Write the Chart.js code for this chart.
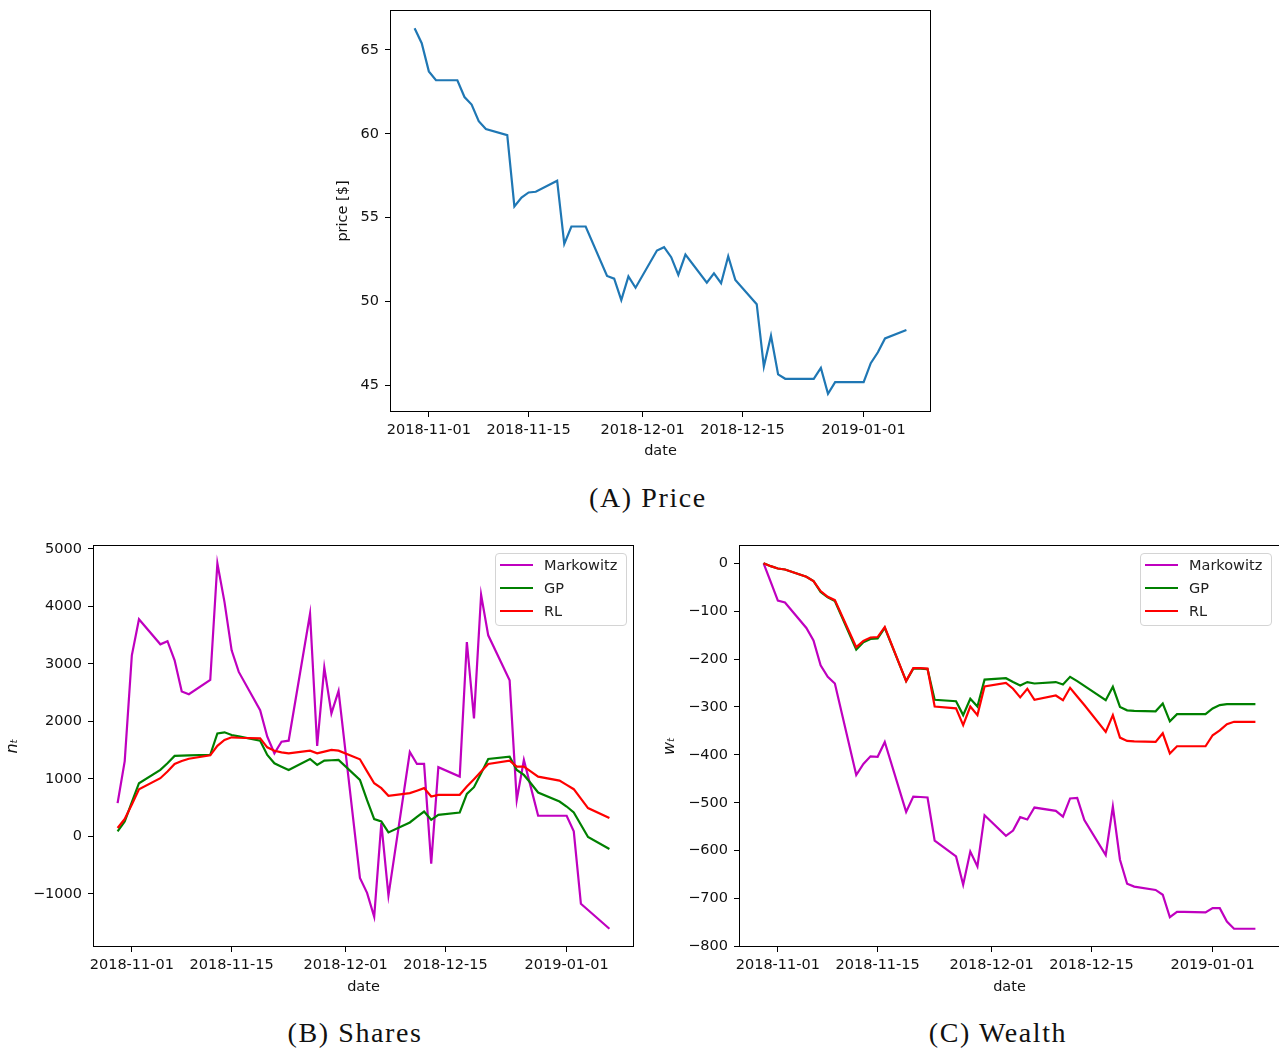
<!DOCTYPE html>
<html>
<head>
<meta charset="utf-8">
<script src="https://cdn.jsdelivr.net/npm/chart.js@4.4.1/dist/chart.umd.min.js"></script>
<style>
html,body{margin:0;padding:0;background:#fff;overflow:hidden;width:1279px;height:1051px;}
.wrap{position:absolute;}
canvas{display:block;}
.cap{position:absolute;font-family:"Liberation Serif",serif;font-size:28px;letter-spacing:1.6px;color:#111;white-space:nowrap;transform:translate(-50%,-50%);line-height:32px;}
.legend{position:absolute;border:1px solid #d4d4d4;border-radius:4px;background:rgba(255,255,255,0.8);font-family:"DejaVu Sans",sans-serif;font-size:14.5px;color:#222;box-sizing:border-box;}
.legend .sw{position:absolute;height:2px;width:33px;}
.legend .tx{position:absolute;line-height:18px;white-space:nowrap;}
</style>
</head>
<body>
<div class="wrap" style="left:320px;top:0px;"><canvas id="cA" width="630" height="470"></canvas></div>
<div class="wrap" style="left:0px;top:520px;"><canvas id="cB" width="650" height="490"></canvas></div>
<div class="wrap" style="left:645px;top:520px;"><canvas id="cC" width="645" height="490"></canvas></div>
<div class="cap" style="left:648px;top:498px;">(A) Price</div>
<div class="cap" style="left:355px;top:1033px;">(B) Shares</div>
<div class="cap" style="left:998px;top:1033px;">(C) Wealth</div>
<div id="legB" class="legend" style="left:495px;top:553px;width:132px;height:73px;"></div>
<div id="legC" class="legend" style="left:1140px;top:553px;width:132px;height:73px;"></div>
<script>
// ---------------- DATA ----------------
const dates = [
  '2018-10-30','2018-10-31',
  '2018-11-01','2018-11-02',
  '2018-11-05','2018-11-06','2018-11-07','2018-11-08','2018-11-09',
  '2018-11-12','2018-11-13','2018-11-14','2018-11-15','2018-11-16',
  '2018-11-19','2018-11-20','2018-11-21','2018-11-22','2018-11-23',
  '2018-11-26','2018-11-27','2018-11-28','2018-11-29','2018-11-30',
  '2018-12-03','2018-12-04','2018-12-05','2018-12-06','2018-12-07',
  '2018-12-10','2018-12-11','2018-12-12','2018-12-13','2018-12-14',
  '2018-12-17','2018-12-18','2018-12-19','2018-12-20','2018-12-21',
  '2018-12-24','2018-12-25','2018-12-26','2018-12-27','2018-12-28',
  '2018-12-31','2019-01-01','2019-01-02','2019-01-03','2019-01-04',
  '2019-01-07'
];

const price = [
  66.29, 65.40,
  63.72, 63.19,
  63.19, 62.19, 61.74, 60.75, 60.28,
  59.92, 55.67, 56.20, 56.50, 56.54,
  57.20, 53.43, 54.47, 54.47, 54.47,
  51.52, 51.36, 50.08, 51.50, 50.82,
  53.04, 53.24, 52.64, 51.58, 52.80,
  51.12, 51.68, 51.09, 52.70, 51.28,
  49.84, 46.12, 47.96, 45.65, 45.39,
  45.39, 45.39, 46.04, 44.50, 45.19,
  45.19, 45.19, 46.32, 46.97, 47.80,
  48.30
];

const sharesMarkowitz = [
  579, 1310,
  3149, 3775,
  3340, 3395, 3062, 2520, 2473,
  2720, 4749, 4073, 3236, 2860,
  2196, 1733, 1445, 1646, 1664,
  3872, 1572, 2936, 2139, 2530,
  -721, -981, -1397, 232, -1028,
  1468, 1260, 1260, -473, 1203,
  1040, 3380, 2052, 4201, 3496,
  2716, 636, 1329, 844, 359,
  359, 359, 87, -1172, -1280,
  -1605
];
const sharesGP = [
  87, 260,
  596, 925,
  1156, 1272, 1400, 1405, 1410,
  1420, 1790, 1810, 1763, 1740,
  1664, 1416, 1272, 1213, 1156,
  1347, 1243, 1317, 1324, 1329,
  983, 630, 301, 260, 69,
  243, 341, 433, 289, 376,
  416, 740, 856, 1099, 1347,
  1386, 1156, 1069, 919, 763,
  607, 520, 416, 203, -10,
  -218
];
const sharesRL = [
  146, 302,
  553, 821,
  1012, 1127, 1260, 1310, 1350,
  1410, 1575, 1676, 1723, 1715,
  1705, 1549, 1490, 1460, 1445,
  1491, 1445, 1475, 1503, 1491,
  1341, 1130, 925, 839, 705,
  752, 795, 839, 693, 723,
  723, 867, 995, 1127, 1260,
  1317, 1213, 1213, 1125, 1040,
  971, 896, 821, 658, 492,
  319
];

const wealthMarkowitz = [
  0, -39,
  -78, -82,
  -135, -161, -213, -237, -251,
  -442, -419, -403, -404, -373,
  -519, -487, -488, -489, -579,
  -612, -671, -602, -633, -526,
  -569, -558, -530, -535, -510,
  -517, -529, -491, -490, -536,
  -609, -508, -619, -669, -675,
  -682, -692, -739, -728, -728,
  -729, -720, -720, -748, -763,
  -763
];
const wealthGP = [
  0, -6,
  -11, -13,
  -28, -37, -60, -71, -79,
  -180, -165, -158, -157, -135,
  -246, -220, -220, -221, -285,
  -288, -317, -283, -299, -243,
  -240, -248, -255, -248, -251,
  -248, -253, -237, -246, -256,
  -286, -258, -300, -307, -308,
  -309, -293, -330, -315, -315,
  -315, -303, -296, -294, -294,
  -294
];
const wealthRL = [
  0, -6,
  -11, -13,
  -28, -37, -58, -70, -77,
  -175, -162, -155, -154, -133,
  -246, -219, -219, -220, -299,
  -303, -338, -299, -317, -257,
  -250, -262, -280, -262, -285,
  -276, -286, -260, -278, -296,
  -352, -317, -364, -371, -372,
  -373, -355, -397, -382, -382,
  -382, -359, -349, -336, -331,
  -331
];

const xTickDates = ['2018-11-01','2018-11-15','2018-12-01','2018-12-15','2019-01-01'];
const priceTicks = [45, 50, 55, 60, 65];
const sharesTicks = [-1000, 0, 1000, 2000, 3000, 4000, 5000];
const wealthTicks = [-800, -700, -600, -500, -400, -300, -200, -100, 0];

const seriesNames = ['Markowitz', 'GP', 'RL'];
const seriesColors = ['#bf00bf', '#008000', '#ff0000'];

// ---------------- HELPERS ----------------
function toDay(s){ const p = s.split('-').map(Number); return Date.UTC(p[0], p[1]-1, p[2]) / 86400000; }
const xs = dates.map(toDay);
function pts(vals){ return vals.map((v,i)=>({x: xs[i], y: v})); }
function padRange(arrs){
  let mn = Infinity, mx = -Infinity;
  arrs.forEach(a => a.forEach(v => { if (v < mn) mn = v; if (v > mx) mx = v; }));
  const m = (mx - mn) * 0.05;
  return [mn - m, mx + m];
}
const xRange = padRange([xs]);
const FONT = {family: 'DejaVu Sans', size: 14.5};
const INK = '#111';

const frame = {
  id: 'frame',
  afterDatasetsDraw(chart){
    const a = chart.chartArea, ctx = chart.ctx;
    ctx.save();
    ctx.strokeStyle = '#000';
    ctx.lineWidth = 1;
    ctx.strokeRect(Math.round(a.left) + 0.5, Math.round(a.top) + 0.5,
                   Math.round(a.right - a.left) - 1, Math.round(a.bottom - a.top) - 1);
    ctx.restore();
  }
};

function minusFmt(v){ return String(v).replace('-', '\u2212'); }

function makeChart(id, cfg){
  const yRange = padRange(cfg.series.map(s => s.data));
  new Chart(document.getElementById(id), {
    type: 'line',
    data: {
      datasets: cfg.series.map(s => ({
        label: s.label,
        data: pts(s.data),
        borderColor: s.color,
        backgroundColor: s.color,
        borderWidth: 2.2,
        pointRadius: 0,
        tension: 0,
        fill: false,
        order: s.order
      }))
    },
    options: {
      responsive: false,
      animation: false,
      events: [],
      layout: {padding: cfg.pad},
      plugins: {legend: {display: false}, tooltip: {enabled: false}},
      scales: {
        x: {
          type: 'linear',
          min: xRange[0], max: xRange[1],
          afterBuildTicks: s => { s.ticks = xTickDates.map(d => ({value: toDay(d)})); },
          afterFit: s => { s.height = cfg.xH; s.paddingLeft = 0; s.paddingRight = 0; },
          ticks: {
            font: FONT, color: INK, padding: 5, maxRotation: 0, autoSkip: false,
            callback: v => { const i = xTickDates.findIndex(d => toDay(d) === v); return i >= 0 ? xTickDates[i] : ''; }
          },
          grid: {display: true, drawOnChartArea: false, drawTicks: true, tickLength: 5, color: '#000', lineWidth: 1},
          border: {display: false},
          title: {display: true, text: 'date', font: FONT, color: INK, padding: {top: 0, bottom: cfg.xTitlePad}}
        },
        y: {
          type: 'linear',
          min: yRange[0], max: yRange[1],
          afterBuildTicks: s => { s.ticks = cfg.yTicks.map(v => ({value: v})); },
          afterFit: s => { s.width = cfg.yW; s.paddingTop = 0; s.paddingBottom = 0; },
          ticks: {font: FONT, color: INK, padding: 6, callback: v => minusFmt(v)},
          grid: {display: true, drawOnChartArea: false, drawTicks: true, tickLength: 5, color: '#000', lineWidth: 1},
          border: {display: false},
          title: {display: true, text: cfg.yTitle, font: cfg.yTitleFont || FONT, color: INK, padding: {top: cfg.yTitlePad, bottom: 0}}
        }
      }
    },
    plugins: [frame]
  });
}

makeChart('cA', {
  series: [{label: 'price', data: price, color: '#1f77b4', order: 0}],
  pad: {left: 0, top: 10, right: 19, bottom: 0},
  xH: 58, yW: 70, xTitlePad: 10, yTitlePad: 15,
  yTicks: priceTicks, yTitle: 'price [$]'
});

makeChart('cB', {
  series: [
    {label: seriesNames[0], data: sharesMarkowitz, color: seriesColors[0], order: 2},
    {label: seriesNames[1], data: sharesGP, color: seriesColors[1], order: 1},
    {label: seriesNames[2], data: sharesRL, color: seriesColors[2], order: 0}
  ],
  pad: {left: 0, top: 25, right: 16, bottom: 0},
  xH: 63, yW: 93, xTitlePad: 14, yTitlePad: 3,
  yTicks: sharesTicks, yTitle: 'n\u209C', yTitleFont: {family: 'DejaVu Sans', size: 16, style: 'italic'}
});

makeChart('cC', {
  series: [
    {label: seriesNames[0], data: wealthMarkowitz, color: seriesColors[0], order: 2},
    {label: seriesNames[1], data: wealthGP, color: seriesColors[1], order: 1},
    {label: seriesNames[2], data: wealthRL, color: seriesColors[2], order: 0}
  ],
  pad: {left: 0, top: 25, right: 10, bottom: 0},
  xH: 63, yW: 94, xTitlePad: 14, yTitlePad: 15,
  yTicks: wealthTicks, yTitle: 'w\u209C', yTitleFont: {family: 'DejaVu Sans', size: 16, style: 'italic'}
});

function buildLegend(id){
  const box = document.getElementById(id);
  seriesNames.forEach((name, i) => {
    const cy = 11 + i * 23;
    const sw = document.createElement('div');
    sw.className = 'sw';
    sw.style.left = '4px';
    sw.style.top = (cy - 1) + 'px';
    sw.style.background = seriesColors[i];
    box.appendChild(sw);
    const tx = document.createElement('div');
    tx.className = 'tx';
    tx.style.left = '48px';
    tx.style.top = (cy - 9) + 'px';
    tx.textContent = name;
    box.appendChild(tx);
  });
}
buildLegend('legB');
buildLegend('legC');
</script>
</body>
</html>
